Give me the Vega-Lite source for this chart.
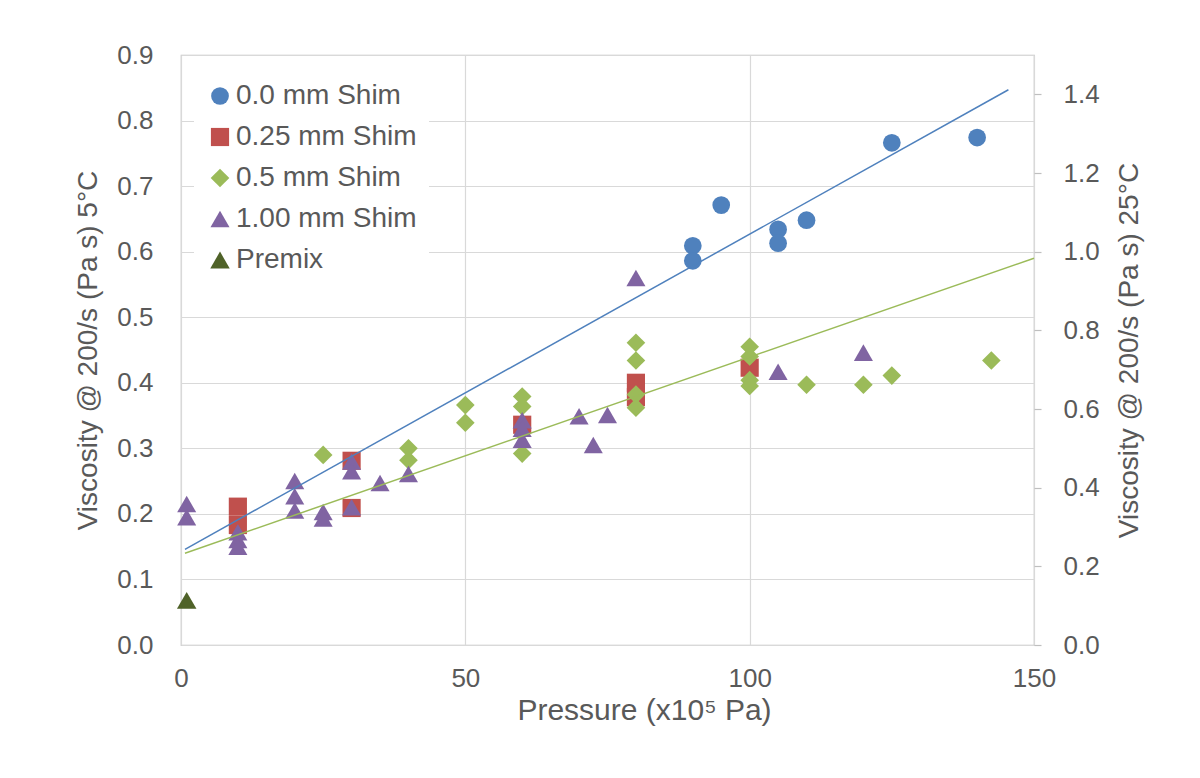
{
  "$schema": "https://vega.github.io/schema/vega-lite/v6.json",
  "width": 853,
  "height": 590,
  "autosize": "none",
  "padding": {"left": 181, "top": 55, "right": 166, "bottom": 133},
  "background": "white",
  "config": {
    "font": "Liberation Sans",
    "view": {"stroke": "#BFBFBF", "strokeWidth": 1.2}
  },
  "datasets": {
    "points": [
      {"series": "0.0 mm Shim", "pressure": 90, "viscosity": 0.609},
      {"series": "0.0 mm Shim", "pressure": 90, "viscosity": 0.586},
      {"series": "0.0 mm Shim", "pressure": 95, "viscosity": 0.671},
      {"series": "0.0 mm Shim", "pressure": 105, "viscosity": 0.634},
      {"series": "0.0 mm Shim", "pressure": 105, "viscosity": 0.613},
      {"series": "0.0 mm Shim", "pressure": 110, "viscosity": 0.648},
      {"series": "0.0 mm Shim", "pressure": 125, "viscosity": 0.766},
      {"series": "0.0 mm Shim", "pressure": 140, "viscosity": 0.774},
      {"series": "0.25 mm Shim", "pressure": 10, "viscosity": 0.211},
      {"series": "0.25 mm Shim", "pressure": 10, "viscosity": 0.183},
      {"series": "0.25 mm Shim", "pressure": 30, "viscosity": 0.281},
      {"series": "0.25 mm Shim", "pressure": 30, "viscosity": 0.209},
      {"series": "0.25 mm Shim", "pressure": 60, "viscosity": 0.336},
      {"series": "0.25 mm Shim", "pressure": 80, "viscosity": 0.4},
      {"series": "0.25 mm Shim", "pressure": 80, "viscosity": 0.378},
      {"series": "0.25 mm Shim", "pressure": 100, "viscosity": 0.423},
      {"series": "0.5 mm Shim", "pressure": 25, "viscosity": 0.29},
      {"series": "0.5 mm Shim", "pressure": 40, "viscosity": 0.3},
      {"series": "0.5 mm Shim", "pressure": 40, "viscosity": 0.282},
      {"series": "0.5 mm Shim", "pressure": 50, "viscosity": 0.366},
      {"series": "0.5 mm Shim", "pressure": 50, "viscosity": 0.339},
      {"series": "0.5 mm Shim", "pressure": 60, "viscosity": 0.379},
      {"series": "0.5 mm Shim", "pressure": 60, "viscosity": 0.364},
      {"series": "0.5 mm Shim", "pressure": 60, "viscosity": 0.292},
      {"series": "0.5 mm Shim", "pressure": 80, "viscosity": 0.461},
      {"series": "0.5 mm Shim", "pressure": 80, "viscosity": 0.434},
      {"series": "0.5 mm Shim", "pressure": 80, "viscosity": 0.382},
      {"series": "0.5 mm Shim", "pressure": 80, "viscosity": 0.362},
      {"series": "0.5 mm Shim", "pressure": 100, "viscosity": 0.455},
      {"series": "0.5 mm Shim", "pressure": 100, "viscosity": 0.44},
      {"series": "0.5 mm Shim", "pressure": 100, "viscosity": 0.404},
      {"series": "0.5 mm Shim", "pressure": 100, "viscosity": 0.395},
      {"series": "0.5 mm Shim", "pressure": 110, "viscosity": 0.397},
      {"series": "0.5 mm Shim", "pressure": 120, "viscosity": 0.397},
      {"series": "0.5 mm Shim", "pressure": 125, "viscosity": 0.411},
      {"series": "0.5 mm Shim", "pressure": 142.5, "viscosity": 0.434},
      {"series": "1.00 mm Shim", "pressure": 1, "viscosity": 0.215},
      {"series": "1.00 mm Shim", "pressure": 1, "viscosity": 0.195},
      {"series": "1.00 mm Shim", "pressure": 10, "viscosity": 0.172},
      {"series": "1.00 mm Shim", "pressure": 10, "viscosity": 0.16},
      {"series": "1.00 mm Shim", "pressure": 10, "viscosity": 0.15},
      {"series": "1.00 mm Shim", "pressure": 20, "viscosity": 0.25},
      {"series": "1.00 mm Shim", "pressure": 20, "viscosity": 0.227},
      {"series": "1.00 mm Shim", "pressure": 20, "viscosity": 0.205},
      {"series": "1.00 mm Shim", "pressure": 25, "viscosity": 0.203},
      {"series": "1.00 mm Shim", "pressure": 25, "viscosity": 0.193},
      {"series": "1.00 mm Shim", "pressure": 30, "viscosity": 0.28},
      {"series": "1.00 mm Shim", "pressure": 30, "viscosity": 0.265},
      {"series": "1.00 mm Shim", "pressure": 30, "viscosity": 0.21},
      {"series": "1.00 mm Shim", "pressure": 35, "viscosity": 0.247},
      {"series": "1.00 mm Shim", "pressure": 40, "viscosity": 0.261},
      {"series": "1.00 mm Shim", "pressure": 60, "viscosity": 0.343},
      {"series": "1.00 mm Shim", "pressure": 60, "viscosity": 0.33},
      {"series": "1.00 mm Shim", "pressure": 60, "viscosity": 0.313},
      {"series": "1.00 mm Shim", "pressure": 70, "viscosity": 0.349},
      {"series": "1.00 mm Shim", "pressure": 72.5, "viscosity": 0.305},
      {"series": "1.00 mm Shim", "pressure": 75, "viscosity": 0.351},
      {"series": "1.00 mm Shim", "pressure": 80, "viscosity": 0.56},
      {"series": "1.00 mm Shim", "pressure": 105, "viscosity": 0.417},
      {"series": "1.00 mm Shim", "pressure": 120, "viscosity": 0.446},
      {"series": "Premix", "pressure": 1, "viscosity": 0.068}
    ],
    "trend": [
      {"fit": "0.0 mm Shim", "pressure": 0.7, "viscosity": 0.146},
      {"fit": "0.0 mm Shim", "pressure": 145.5, "viscosity": 0.847},
      {"fit": "0.5 mm Shim", "pressure": 0.7, "viscosity": 0.14},
      {"fit": "0.5 mm Shim", "pressure": 150, "viscosity": 0.59}
    ]
  },
  "layer": [
    {
      "layer": [
        {
          "data": {"name": "points"},
          "mark": {"type": "point", "filled": true, "opacity": 1, "strokeWidth": 0},
          "encoding": {
            "x": {
              "field": "pressure", "type": "quantitative",
              "scale": {"domain": [0, 150], "nice": false, "zero": false},
              "axis": {
                "title": "Pressure (x10⁵ Pa)",
                "values": [0, 50, 100, 150],
                "grid": true, "gridColor": "#D9D9D9", "gridWidth": 1.2,
                "domain": false, "ticks": false, "tickSize": 0,
                "labelFlush": false, "labelOverlap": false,
                "labelFontSize": 26, "labelColor": "#595959", "labelPadding": 20,
                "labelFont": "Liberation Sans",
                "titleFont": "Liberation Sans", "titleFontSize": 30, "titleFontWeight": "normal",
                "titleColor": "#595959", "titleBaseline": "top", "titleY": 50,
                "titleX": 463, "titleAlign": "center"
              }
            },
            "y": {
              "field": "viscosity", "type": "quantitative",
              "scale": {"domain": [0, 0.9], "nice": false, "zero": false},
              "axis": {
                "title": "Viscosity @ 200/s (Pa s) 5°C",
                "values": [0, 0.1, 0.2, 0.3, 0.4, 0.5, 0.6, 0.7, 0.8, 0.9],
                "format": ".1f",
                "grid": true, "gridColor": "#D9D9D9", "gridWidth": 1.2,
                "domain": false, "ticks": false, "tickSize": 0,
                "labelFlush": false, "labelOverlap": false,
                "labelFontSize": 26, "labelColor": "#595959", "labelPadding": 28,
                "labelFont": "Liberation Sans",
                "titleFont": "Liberation Sans", "titleFontSize": 28, "titleFontWeight": "normal",
                "titleColor": "#595959", "titleBaseline": "middle", "titleX": -93
              }
            },
            "color": {
              "field": "series", "type": "nominal",
              "scale": {
                "domain": ["0.0 mm Shim", "0.25 mm Shim", "0.5 mm Shim", "1.00 mm Shim", "Premix"],
                "range": ["#4F81BD", "#C0504D", "#9BBB59", "#8064A2", "#4F6228"]
              },
              "legend": {
                "title": null, "orient": "none", "legendX": 13, "legendY": 15,
                "fillColor": "white", "padding": 12, "strokeColor": null,
                "labelFont": "Liberation Sans", "labelFontSize": 28, "labelColor": "#595959",
                "symbolSize": 190, "rowPadding": 13, "labelOffset": 2, "labelLimit": 400,
                "symbolStrokeWidth": 0, "symbolOpacity": 1
              }
            },
            "shape": {
              "field": "series", "type": "nominal",
              "scale": {
                "domain": ["0.0 mm Shim", "0.25 mm Shim", "0.5 mm Shim", "1.00 mm Shim", "Premix"],
                "range": ["circle", "square", "diamond", "triangle-up", "triangle-up"]
              }
            },
            "size": {
              "field": "series", "type": "ordinal",
              "scale": {
                "domain": ["0.0 mm Shim", "0.25 mm Shim", "0.5 mm Shim", "1.00 mm Shim", "Premix"],
                "range": [314, 380, 330, 470, 470]
              },
              "legend": null
            }
          }
        },
        {
          "data": {"name": "trend"},
          "transform": [{"filter": {"field": "fit", "equal": "0.0 mm Shim"}}],
          "mark": {"type": "line", "color": "#4F81BD", "strokeWidth": 1.5},
          "encoding": {
            "x": {"field": "pressure", "type": "quantitative", "title": "Pressure (x10⁵ Pa)"},
            "y": {"field": "viscosity", "type": "quantitative", "title": "Viscosity @ 200/s (Pa s) 5°C"}
          }
        },
        {
          "data": {"name": "trend"},
          "transform": [{"filter": {"field": "fit", "equal": "0.5 mm Shim"}}],
          "mark": {"type": "line", "color": "#9BBB59", "strokeWidth": 1.5},
          "encoding": {
            "x": {"field": "pressure", "type": "quantitative", "title": "Pressure (x10⁵ Pa)"},
            "y": {"field": "viscosity", "type": "quantitative", "title": "Viscosity @ 200/s (Pa s) 5°C"}
          }
        }
      ]
    },
    {
      "data": {"name": "points"},
      "mark": {"type": "point", "opacity": 0},
      "encoding": {
        "x": {"field": "pressure", "type": "quantitative", "title": "Pressure (x10⁵ Pa)"},
        "y": {
          "field": "viscosity", "type": "quantitative",
          "scale": {"domain": [0, 1.5], "nice": false, "zero": false},
          "axis": {
            "orient": "right",
            "title": "Viscosity @ 200/s (Pa s) 25°C",
            "values": [0, 0.2, 0.4, 0.6, 0.8, 1.0, 1.2, 1.4],
            "format": ".1f",
            "grid": false, "domain": false,
            "labelFlush": false, "labelOverlap": false,
            "ticks": true, "tickSize": 7, "tickColor": "#BFBFBF", "tickWidth": 1.2,
            "labelFontSize": 26, "labelColor": "#595959", "labelPadding": 22,
            "labelFont": "Liberation Sans",
            "titleFont": "Liberation Sans", "titleFontSize": 28, "titleFontWeight": "normal",
            "titleColor": "#595959", "titleAngle": 270, "titleBaseline": "middle", "titleX": 95
          }
        }
      }
    }
  ],
  "resolve": {"scale": {"y": "independent"}}
}
